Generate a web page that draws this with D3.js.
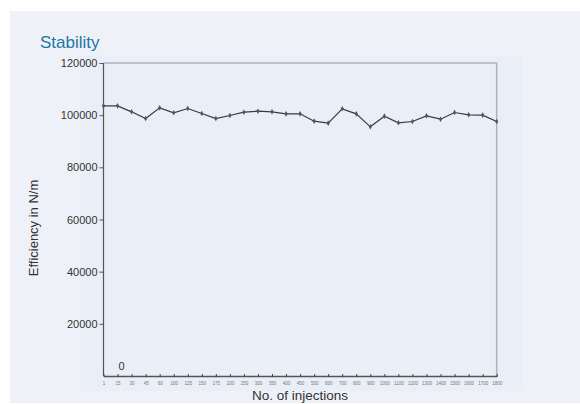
<!DOCTYPE html>
<html>
<head>
<meta charset="utf-8">
<script src="https://cdn.jsdelivr.net/npm/d3@7"></script>
<style>
  html, body { margin: 0; padding: 0; background: #ffffff; }
  svg { display: block; }
  text { font-family: "Liberation Sans", Arial, sans-serif; }
</style>
</head>
<body>
<svg id="chart" width="580" height="404"></svg>
<script>
// Injection counts along the x axis
const injections = [1, 15, 30, 45, 60, 100, 125, 150, 175, 200, 250, 300, 350, 400, 450,
  500, 600, 700, 800, 900, 1000, 1100, 1200, 1300, 1400, 1500, 1600, 1700, 1800];
// Column efficiency (plates per metre) at each injection
const efficiency = [103570, 103570, 101280, 98720, 102810, 100900, 102550, 100640, 98720, 99870,
  101150, 101530, 101280, 100510, 100510, 97700, 96940, 102430, 100510, 95530,
  99620, 97070, 97580, 99740, 98460, 101020, 100130, 100000, 97580];
// Y axis tick values
const yTicks = [20000, 40000, 60000, 80000, 100000, 120000];

const svg = d3.select("#chart");

// Background panels
svg.append("rect").attr("x", 10).attr("y", 11).attr("width", 570).attr("height", 392)
  .attr("fill", "#eff1f9");
svg.append("rect").attr("x", 80).attr("y", 56).attr("width", 442).attr("height", 335)
  .attr("fill", "#e9eef7");

const x = d3.scalePoint().domain(injections.map(String)).range([103.5, 496.7]);
const y = d3.scaleLinear().domain([0, 120000]).range([376, 63]);

// Frame: top and right borders
svg.append("path")
  .attr("d", `M${x.range()[0]},${y(120000)}H${x.range()[1]}V${y(0)}`)
  .attr("fill", "none").attr("stroke", "#aeb2ba").attr("stroke-width", 1.5);

// Y axis
const yAxis = svg.append("g").attr("transform", `translate(${x.range()[0]},0)`)
  .call(d3.axisLeft(y).tickValues(yTicks).tickSize(4).tickPadding(2).tickFormat(d => d));
yAxis.select(".domain").attr("stroke", "#555").attr("stroke-width", 1.2)
  .attr("d", `M0,${y(120000)}V${y(0)}`);
yAxis.selectAll(".tick line").attr("stroke", "#555");
yAxis.selectAll(".tick text").attr("fill", "#333").attr("font-size", 11)
  .attr("font-family", "Liberation Sans, Arial, sans-serif");

// Zero label sitting inside the plot
svg.append("text").attr("x", 121.5).attr("y", y(0) - 6).attr("text-anchor", "middle")
  .attr("font-size", 11).attr("fill", "#333").text("0");

// X axis
const xAxis = svg.append("g").attr("transform", `translate(0,${y(0)})`)
  .call(d3.axisBottom(x).tickSizeInner(2).tickSizeOuter(0).tickPadding(4));
xAxis.select(".domain").attr("stroke", "#555").attr("stroke-width", 1.5);
xAxis.selectAll(".tick line").attr("stroke", "#444").attr("y1", -2).attr("y2", 1);
xAxis.selectAll(".tick text").attr("fill", "#777").attr("font-size", 4.5)
  .attr("font-family", "Liberation Sans, Arial, sans-serif");

// Series line
const line = d3.line().x((d, i) => x(String(injections[i]))).y(d => y(d));
svg.append("path").datum(efficiency).attr("d", line)
  .attr("fill", "none").attr("stroke", "#3a3a3a").attr("stroke-width", 1.2);

// Point markers
svg.append("g").selectAll("path").data(efficiency).join("path")
  .attr("d", d3.symbol(d3.symbolDiamond, 9))
  .attr("transform", (d, i) => `translate(${x(String(injections[i]))},${y(d)})`)
  .attr("fill", "#555");

// Title
svg.append("text").attr("x", 40).attr("y", 48).attr("font-size", 17)
  .attr("fill", "#2178a3").text("Stability");

// Axis titles
svg.append("text").attr("transform", "translate(38,228) rotate(-90)")
  .attr("text-anchor", "middle").attr("font-size", 13).attr("fill", "#333")
  .text("Efficiency in N/m");
svg.append("text").attr("x", 300).attr("y", 400).attr("text-anchor", "middle")
  .attr("font-size", 13.5).attr("fill", "#333").text("No. of injections");
</script>
</body>
</html>
